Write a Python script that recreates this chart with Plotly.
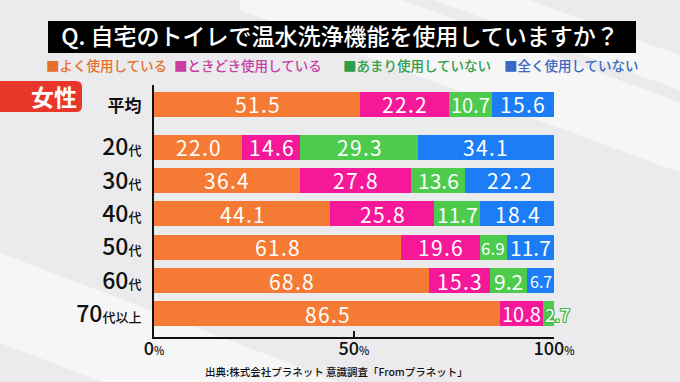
import plotly.graph_objects as go

categories = ["平均", "20代", "30代", "40代", "50代", "60代", "70代以上"]
positions = [0, 1.29, 2.29, 3.29, 4.29, 5.29, 6.29]
often = [51.5, 22.0, 36.4, 44.1, 61.8, 68.8, 86.5]
sometimes = [22.2, 14.6, 27.8, 25.8, 19.6, 15.3, 10.8]
rarely = [10.7, 29.3, 13.6, 11.7, 6.9, 9.2, 2.7]
never = [15.6, 34.1, 22.2, 18.4, 11.7, 6.7, 0.0]
series_names = ["よく使用している", "ときどき使用している", "あまり使用していない", "全く使用していない"]
bar_colors = ["#F57B34", "#F5199A", "#4CCB4C", "#1C7DF7"]
legend_colors = ["#E4702C", "#C93FA3", "#2E9E48", "#3A68C4"]
x_ticks = [0, 50, 100]

FONT = "Noto Sans CJK JP"
series = [often, sometimes, rarely, never]

W, H = 680, 382
L, R, T, B = 154, 126, 85, 45
pw, ph = W - L - R, H - T - B
PX_PER_PCT = pw / 100.0

def px(x):
    return (x - L) / pw

def py(y):
    return (H - B - y) / ph

fig = go.Figure()
for name, vals, col in zip(series_names, series, bar_colors):
    fig.add_trace(go.Bar(
        y=positions, x=vals, orientation="h", name=name,
        marker=dict(color=col, line=dict(width=0)),
        width=0.75, hoverinfo="skip",
    ))

OUTLINE = ", ".join(f"{dx}px {dy}px 0 #3CB83C" for dx, dy in
                    [(1, 1), (-1, -1), (1, -1), (-1, 1), (0, 1), (0, -1), (1, 0), (-1, 0)])

annotations = []
# value labels centred on each segment (positions come from the data via the axis scale)
for i in range(len(categories)):
    start = 0.0
    for s, vals in enumerate(series):
        v = vals[i]
        if v <= 0:
            continue
        seg_px = v * PX_PER_PCT
        label = f"{v:.1f}"
        is_last = all(series[k][i] == 0 for k in range(s + 1, len(series)))
        if is_last and seg_px < 25:
            annotations.append(dict(x=start, y=positions[i], xref="x", yref="y", text=label,
                                    showarrow=False, xanchor="left", yanchor="middle",
                                    font=dict(color="white", size=18, family=FONT, shadow=OUTLINE)))
        else:
            size = 21
            plain_w = 0.56 * size * (len(label) - 1) + 0.3 * size
            spaced = "\u200a".join(label)
            spaced_w = plain_w + 0.1 * size * (len(label) - 1)
            if seg_px - 10 >= spaced_w:
                text = spaced
            else:
                text = label
                while plain_w > seg_px - 3 and size > 12:
                    size -= 1
                    plain_w = 0.56 * size * (len(label) - 1) + 0.3 * size
            annotations.append(dict(x=start + v / 2, y=positions[i], xref="x", yref="y", text=text,
                                    showarrow=False, xanchor="center", yanchor="middle",
                                    font=dict(color="white", size=size, family=FONT)))
        start += v

ticktext = []
for c in categories:
    if c == "平均":
        ticktext.append("<b><span style='font-size:17px'>平均</span></b>")
    else:
        ticktext.append(f"{c[:2]}<span style='font-size:13px'>{c[2:]}</span>")

shapes = []
# faint background streaks
for (x0, y0, x1, y1, w) in [(240, -60, 700, 110, 70), (-60, 230, 700, 520, 90), (420, -40, 720, 70, 35)]:
    shapes.append(dict(type="path", xref="paper", yref="paper",
                       path=f"M {px(x0)},{py(y0)} L {px(x1)},{py(y1)} L {px(x1)},{py(y1+w)} L {px(x0)},{py(y0+w)} Z",
                       fillcolor="rgba(255,255,255,0.55)", line=dict(width=0), layer="below"))
shapes += [
    dict(type="rect", xref="paper", yref="paper", x0=px(48), x1=px(636),
         y0=py(53), y1=py(21), fillcolor="#000000", line=dict(width=0), layer="below"),
    dict(type="path", xref="paper", yref="paper",
         path=f"M {px(-2)},{py(81)} L {px(76)},{py(81)} Q {px(82)},{py(81)} {px(82)},{py(87)} "
              f"L {px(82)},{py(106)} Q {px(82)},{py(112)} {px(76)},{py(112)} L {px(-2)},{py(112)} Z",
         fillcolor="#E8362B", line=dict(width=0), layer="below"),
]

annotations += [
    dict(xref="paper", yref="paper", x=px(54), y=py(96), text="<b>女性</b>",
         showarrow=False, font=dict(color="white", size=23, family=FONT), xanchor="center", yanchor="middle"),
    dict(xref="paper", yref="paper", x=px(203), y=py(371), text="出典:株式会社プラネット 意識調査「Fromプラネット」",
         showarrow=False, font=dict(color="#111111", size=10.5, family=FONT, weight=500),
         xanchor="left", yanchor="middle"),
]
legend_x = [44, 172, 341, 502]
for name, col, lx in zip(series_names, legend_colors, legend_x):
    annotations.append(dict(xref="paper", yref="paper", x=px(lx), y=py(65), text="■" + name,
                            showarrow=False, font=dict(color=col, size=13.5, family=FONT, weight=500),
                            xanchor="left", yanchor="middle"))

fig.update_layout(
    width=W, height=H, margin=dict(l=L, r=R, t=T, b=B),
    barmode="stack", showlegend=False,
    title=dict(text="Q. 自宅のトイレで温水洗浄機能を使用していますか？", x=340 / W,
               xanchor="center", y=1 - 37 / H, yanchor="middle", xref="container", yref="container",
               font=dict(color="white", size=23, family=FONT, weight=500)),
    paper_bgcolor="#EBEBED", plot_bgcolor="rgba(0,0,0,0)",
    font=dict(family=FONT, color="#111111"),
    shapes=shapes, annotations=annotations,
    xaxis=dict(range=[0, 100], tickvals=x_ticks,
               ticktext=[f"{t}<span style='font-size:11px'>%</span>" for t in x_ticks],
               tickfont=dict(size=18, color="#111111", family=FONT, weight=500),
               showgrid=False, zeroline=False, showline=True, linecolor="#111111", linewidth=2,
               ticks="inside", ticklen=6, tickwidth=1.5, tickcolor="#111111",
               ticklabelstandoff=-6, fixedrange=True),
    yaxis=dict(range=[6.98, -0.57], tickvals=positions, ticktext=ticktext,
               tickfont=dict(size=23, color="#111111", family=FONT, weight=500),
               showgrid=False, zeroline=False, showline=True, linecolor="#111111", linewidth=2,
               ticks="", ticklabelstandoff=6, fixedrange=True),
)

fig.write_html("out.html", config={"displayModeBar": False},
               post_script="document.body.style.margin='0';document.body.style.overflow='hidden';")
